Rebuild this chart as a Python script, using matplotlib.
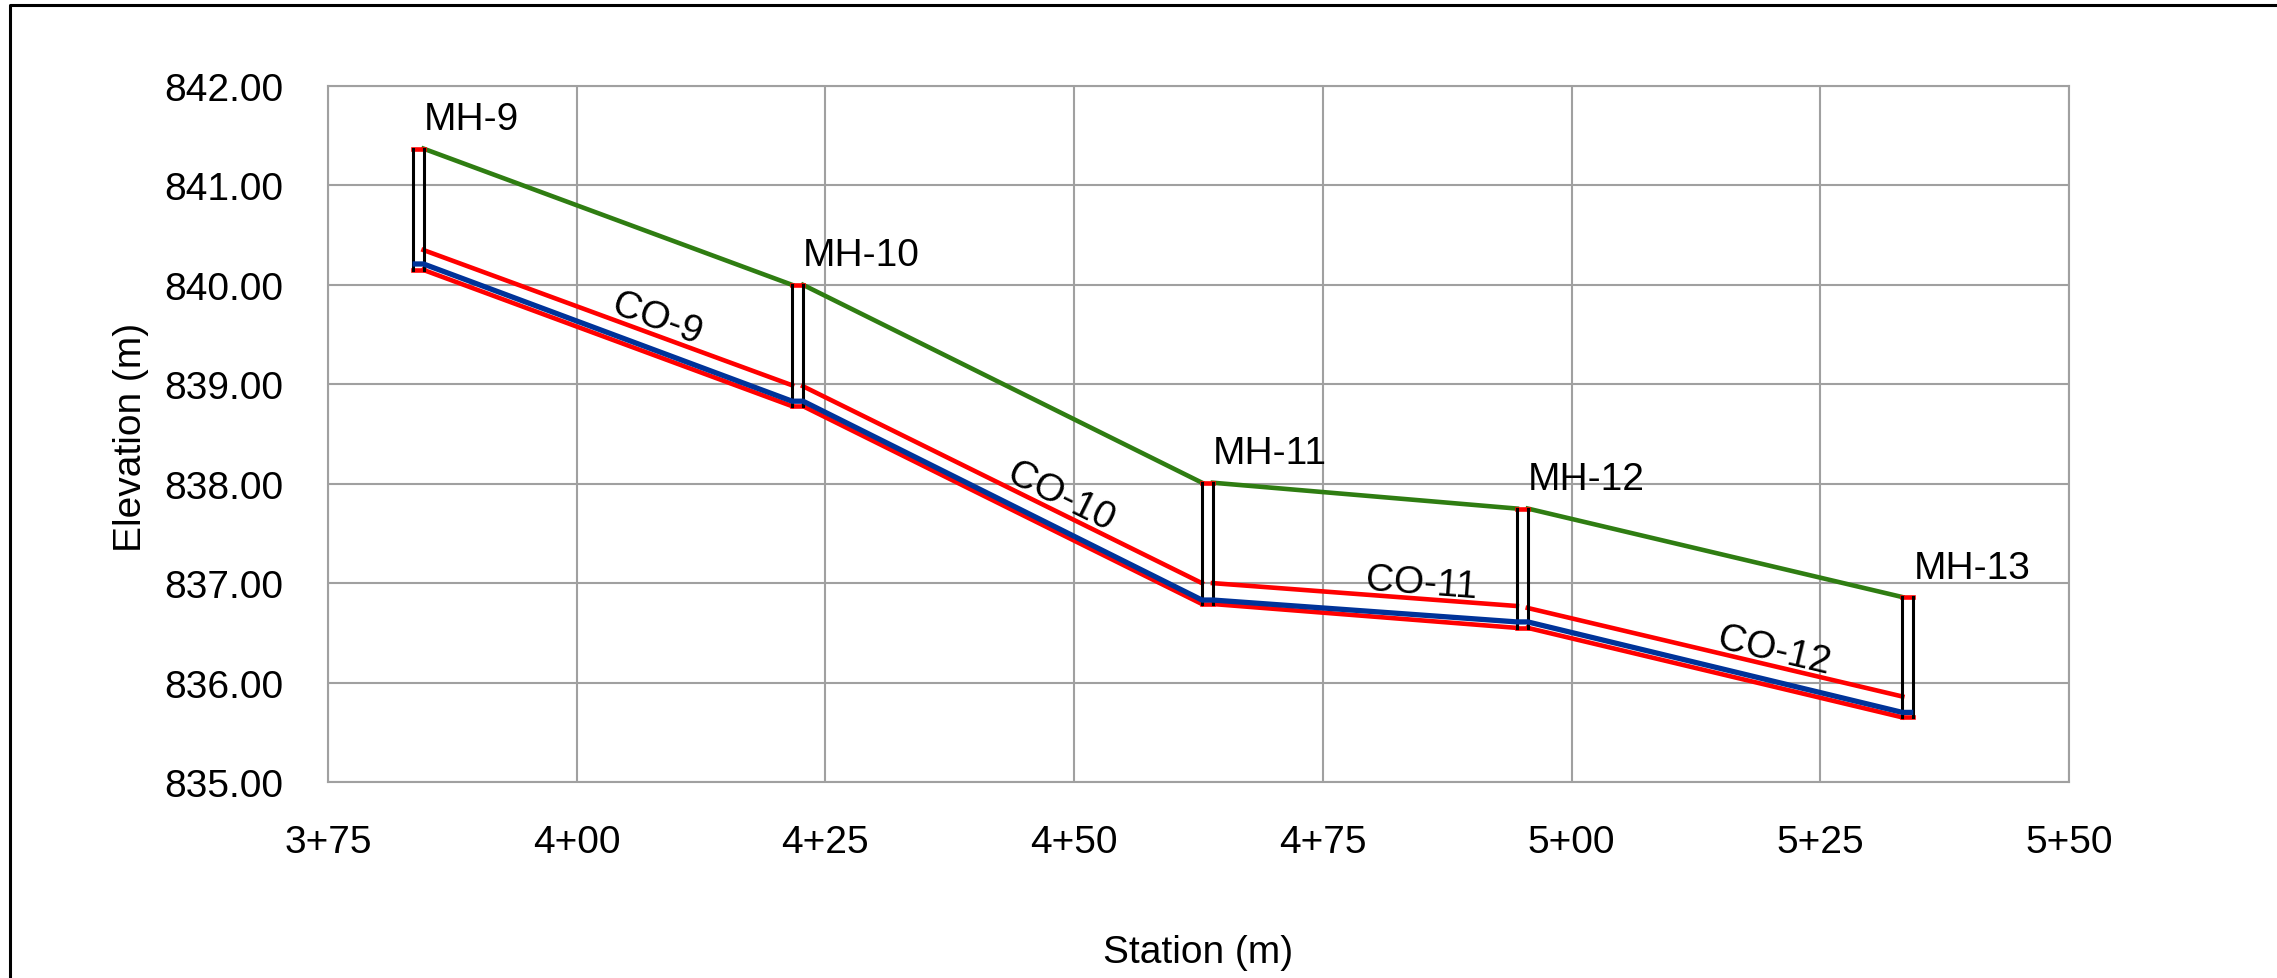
import numpy as np
import matplotlib.pyplot as plt
from matplotlib.lines import Line2D

plt.rcParams['font.family'] = ['Liberation Sans', 'DejaVu Sans']

# manholes
mh_names = ['MH-9', 'MH-10', 'MH-11', 'MH-12', 'MH-13']
mh_station = [384.05, 422.2, 463.4, 495.05, 533.8]
mh_rim = [841.37, 840.00, 838.01, 837.75, 836.86]
mh_invert = [840.21, 838.83, 836.83, 836.61, 835.70]
mh_sump = [840.15, 838.78, 836.79, 836.55, 835.65]

# pipes between manholes
pipe_names = ['CO-9', 'CO-10', 'CO-11', 'CO-12']
pipe_crown_start = [840.35, 838.98, 837.00, 836.75]
pipe_crown_end = [838.99, 837.00, 836.77, 835.86]

mh_width = 1.1
W, H = 2277, 979

fig = plt.figure(figsize=(W / 100, H / 100), dpi=100)
ax = fig.add_axes([328 / W, 1 - 783 / H, (2069 - 328) / W, (783 - 87) / H])
ax.set_xlim(375, 550)
ax.set_ylim(835, 842)

xt = np.arange(375, 551, 25)
ax.set_xticks(xt)
ax.set_xticklabels([f"{int(t // 100)}+{int(t % 100):02d}" for t in xt])
yt = np.arange(835, 842.5, 1)
ax.set_yticks(yt)
ax.set_yticklabels([f"{v:.2f}" for v in yt])
ax.grid(True, color='#a0a0a0', linewidth=1.5)
ax.set_axisbelow(True)
ax.tick_params(length=0, labelsize=28)
ax.tick_params(axis='y', pad=32)
ax.tick_params(axis='x', pad=30)
for s in ax.spines.values():
    s.set_color('#a0a0a0')
    s.set_linewidth(1.5)

green = '#2f7d12'
red = '#ff0000'
blue = '#003399'
hw = mh_width / 2

# ground, crown and pipe bottom between manholes
for i in range(len(pipe_names)):
    x0 = mh_station[i] + hw
    x1 = mh_station[i + 1] - hw
    ax.plot([x0, x1], [mh_rim[i], mh_rim[i + 1]], color=green, lw=3.3, zorder=3)
    ax.plot([x0, x1], [pipe_crown_start[i], pipe_crown_end[i]], color=red, lw=3.3, zorder=3)
    ax.plot([x0, x1], [mh_sump[i], mh_sump[i + 1]], color=red, lw=3.3, zorder=3)

# invert line through manholes
bx, by = [], []
for s, v in zip(mh_station, mh_invert):
    bx += [s - hw, s + hw]
    by += [v, v]
ax.plot(bx, by, color=blue, lw=3.8, zorder=5, solid_capstyle='butt')

# manhole structures
for i, name in enumerate(mh_names):
    s = mh_station[i]
    ax.plot([s - hw, s + hw], [mh_rim[i], mh_rim[i]], color=red, lw=3.3, zorder=4)
    ax.plot([s - hw, s + hw], [mh_sump[i], mh_sump[i]], color=red, lw=3.3, zorder=4)
    for e in (s - hw, s + hw):
        ax.plot([e, e], [mh_sump[i], mh_rim[i]], color='black', lw=2.2, zorder=4)
    ax.annotate(name, (s + hw, mh_rim[i]), xytext=(0, 14), textcoords='offset points',
                ha='left', va='baseline', fontsize=28, zorder=6)

# pipe labels along pipe slope
for i, name in enumerate(pipe_names):
    x0 = mh_station[i] + hw
    x1 = mh_station[i + 1] - hw
    p0 = ax.transData.transform((x0, pipe_crown_start[i]))
    p1 = ax.transData.transform((x1, pipe_crown_end[i]))
    ang = np.arctan2(p1[1] - p0[1], p1[0] - p0[0])
    xm = (mh_station[i] + mh_station[i + 1]) / 2
    ym = pipe_crown_start[i] + (pipe_crown_end[i] - pipe_crown_start[i]) * (xm - x0) / (x1 - x0)
    off = 4
    ax.annotate(name, (xm, ym), xytext=(-np.sin(ang) * off, np.cos(ang) * off),
                textcoords='offset points', rotation=np.degrees(ang), rotation_mode='anchor',
                ha='left', va='baseline', fontsize=28, zorder=6)

fig.text(131 / W, 1 - 437 / H, 'Elevation (m)', rotation=90, ha='center', va='center', fontsize=28)
fig.text(1198 / W, 1 - 953 / H, 'Station (m)', ha='center', va='center', fontsize=28)

# outer frame
fig.add_artist(Line2D([10 / W, 10 / W, 1.01], [-0.01, 1 - 6 / H, 1 - 6 / H],
                      transform=fig.transFigure, color='black', lw=2.2))

fig.savefig('out.png', dpi=100)
